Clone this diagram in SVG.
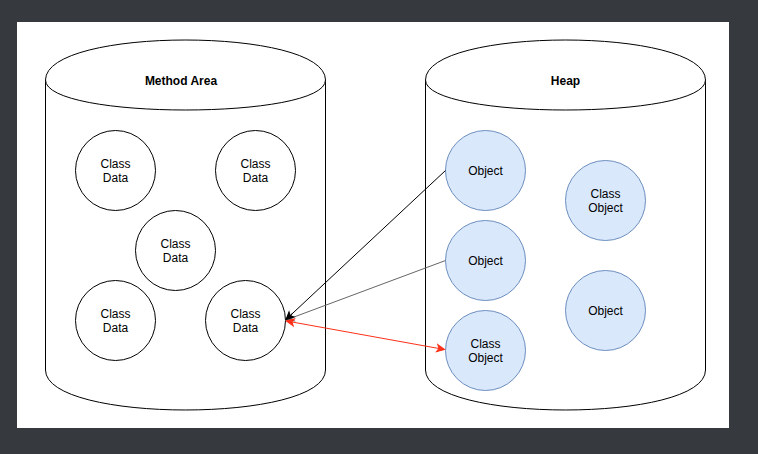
<svg xmlns="http://www.w3.org/2000/svg" width="758" height="454" viewBox="0 0 758 454">
<style>
.cyl{fill:#ffffff;stroke:#000000;stroke-width:1}
.cd{fill:#ffffff;stroke:#000000;stroke-width:1}
.ob{fill:#dae8fc;stroke:#6c8ebf;stroke-width:1}
text{font-family:"Liberation Sans",Arial,Helvetica,sans-serif;font-size:12px;fill:#000000;text-anchor:middle}
.title{font-weight:bold}
.edge{fill:none;stroke-width:1}
</style>
<defs>
<marker id="arrB" markerUnits="userSpaceOnUse" viewBox="-8 -4 9 8" refX="0" refY="0" markerWidth="9" markerHeight="8" orient="auto" overflow="visible">
<path d="M0,0 L-7.5,-3.6 L-5.6,0 L-7.5,3.6 Z" fill="#000000" stroke="#000000" stroke-width="1"/>
</marker>
<marker id="arrG" markerUnits="userSpaceOnUse" viewBox="-8 -4 9 8" refX="0" refY="0" markerWidth="9" markerHeight="8" orient="auto" overflow="visible">
<path d="M0,0 L-7.5,-3.6 L-5.6,0 L-7.5,3.6 Z" fill="#666666" stroke="#666666" stroke-width="1"/>
</marker>
<marker id="arrR" markerUnits="userSpaceOnUse" viewBox="-8 -4 9 8" refX="0" refY="0" markerWidth="9" markerHeight="8" orient="auto-start-reverse" overflow="visible">
<path d="M0,0 L-7.5,-3.6 L-5.6,0 L-7.5,3.6 Z" fill="#ff3019" stroke="#ff3019" stroke-width="1"/>
</marker>
</defs>
<rect x="0" y="0" width="758" height="454" fill="#36393d"/>
<rect x="17" y="22" width="712" height="406" fill="#ffffff"/>

<g id="method-area">
<path class="cyl" d="M45.5,80 C45.5,26.67 325.5,26.67 325.5,80 L325.5,370 C325.5,423.33 45.5,423.33 45.5,370 Z"/>
<path class="cyl" fill="none" d="M45.5,80 C45.5,120 325.5,120 325.5,80"/>
<text class="title" x="181" y="85">Method Area</text>
</g>

<g id="heap">
<path class="cyl" d="M425.5,80 C425.5,26.67 705.5,26.67 705.5,80 L705.5,370 C705.5,423.33 425.5,423.33 425.5,370 Z"/>
<path class="cyl" fill="none" d="M425.5,80 C425.5,120 705.5,120 705.5,80"/>
<text class="title" x="565.5" y="85">Heap</text>
</g>

<g id="class-data-1">
<circle class="cd" cx="115.5" cy="170.5" r="40"/>
<text x="115.5" y="168">Class</text><text x="115.5" y="182">Data</text>
</g>
<g id="class-data-2">
<circle class="cd" cx="255.5" cy="170.5" r="40"/>
<text x="255.5" y="168">Class</text><text x="255.5" y="182">Data</text>
</g>
<g id="class-data-3">
<circle class="cd" cx="175.5" cy="250.5" r="40"/>
<text x="175.5" y="248">Class</text><text x="175.5" y="262">Data</text>
</g>
<g id="class-data-4">
<circle class="cd" cx="115.5" cy="320.5" r="40"/>
<text x="115.5" y="318">Class</text><text x="115.5" y="332">Data</text>
</g>
<g id="class-data-5">
<circle class="cd" cx="245.5" cy="320.5" r="40"/>
<text x="245.5" y="318">Class</text><text x="245.5" y="332">Data</text>
</g>

<g id="object-1">
<circle class="ob" cx="485.5" cy="170.5" r="40"/>
<text x="485.5" y="175">Object</text>
</g>
<g id="object-2">
<circle class="ob" cx="485.5" cy="260.5" r="40"/>
<text x="485.5" y="265">Object</text>
</g>
<g id="class-object-1">
<circle class="ob" cx="485.5" cy="350.5" r="40"/>
<text x="485.5" y="348">Class</text><text x="485.5" y="362">Object</text>
</g>
<g id="class-object-2">
<circle class="ob" cx="605.5" cy="200.5" r="40"/>
<text x="605.5" y="198">Class</text><text x="605.5" y="212">Object</text>
</g>
<g id="object-3">
<circle class="ob" cx="605.5" cy="310.5" r="40"/>
<text x="605.5" y="315">Object</text>
</g>

<g id="connectors">
<line class="edge" x1="445.5" y1="260.5" x2="286" y2="320" stroke="#666666" marker-end="url(#arrG)"/>
<line class="edge" x1="445.5" y1="170.5" x2="286" y2="319.5" stroke="#000000" marker-end="url(#arrB)"/>
<line class="edge" x1="286.5" y1="321" x2="444.5" y2="349.5" stroke="#ff3019" marker-start="url(#arrR)" marker-end="url(#arrR)"/>
</g>
</svg>
